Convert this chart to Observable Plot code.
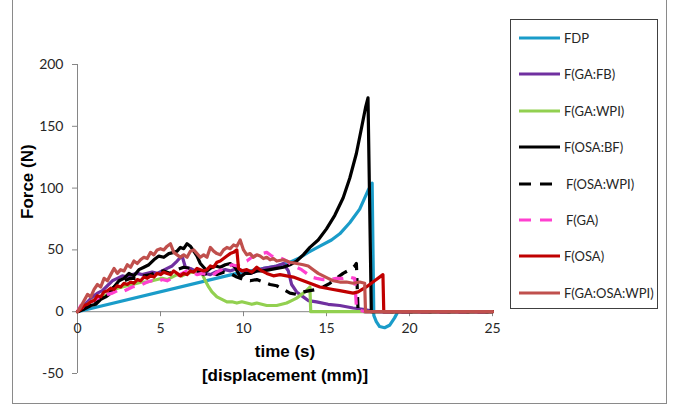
<!DOCTYPE html>
<html>
<head>
<meta charset="utf-8">
<script src="https://cdn.jsdelivr.net/npm/d3@7"></script>
<script src="https://cdn.jsdelivr.net/npm/@observablehq/plot@0.6"></script>
<style>
  html, body { margin: 0; padding: 0; background: #fff; }
  #wrap { position: relative; width: 673px; height: 408px; overflow: hidden; font-family: Lato, "Noto Sans", sans-serif; }
  #frame { position: absolute; left: 12px; top: -1px; width: 655px; height: 405px; border: 1px solid #8a8a8a; box-sizing: border-box; }
  #legend { position: absolute; left: 510px; top: 19px; width: 148px; height: 290px; border: 1px solid #404040; box-sizing: border-box; background: #fff; }
  .item { position: absolute; left: 8px; height: 16px; display: flex; align-items: center; font-size: 13px; color: #262626; white-space: nowrap; }
  .item svg { margin-right: 3px; }
  #chart { position: absolute; left: 0; top: 0; }
</style>
</head>
<body>
<div id="wrap">
  <div id="frame"></div>
  <div id="chart"></div>
  <div id="legend"></div>
</div>
<script>
// ---- data: [time (s), force (N)] ----
const fdp = [[0,0],[9.6,31],[10,32],[11,34.5],[12,37],[12.8,40],[13.3,43],[13.9,48],[14.6,53],[15.3,58],[15.8,63],[16.4,72],[17.0,83],[17.5,98],[17.75,104],[17.85,-3],[18.0,-8],[18.2,-12],[18.5,-13],[18.8,-11],[19.1,-5],[19.3,0],[25,0]];

const gaFb = [[0,0],[0.3,4],[0.6,8],[0.9,12],[1.2,15],[1.5,17],[1.8,21],[2.1,25],[2.4,27],[2.7,29],[3.0,28],[3.3,30],[3.6,31],[3.9,30],[4.2,31],[4.5,32],[4.8,31],[5.1,33],[5.4,35],[5.7,37],[6.0,41],[6.2,44],[6.3,45],[6.5,36],[6.8,35],[7.1,33],[7.4,32],[7.7,31],[8.0,30],[8.3,32],[8.6,33],[8.9,34],[9.2,33],[9.6,35],[10.0,33],[10.4,31],[10.8,33],[11.2,35],[11.6,36],[12.0,37],[12.4,39],[12.7,33],[12.9,22],[13.2,16],[13.6,12],[13.9,9],[14.4,8],[15.1,6],[15.8,5],[16.6,3],[17.2,2],[17.6,1],[17.8,0],[25,0]];

const gaWpi = [[0,0],[0.3,3],[0.6,6],[0.9,9],[1.2,11],[1.5,12],[1.8,14],[2.1,17],[2.4,19],[2.7,20],[3.0,21],[3.3,22],[3.6,23],[3.9,24],[4.2,24],[4.5,25],[4.8,26],[5.1,27],[5.4,26],[5.7,28],[6.0,30],[6.3,29],[6.6,31],[6.9,32],[7.2,33],[7.5,31],[7.7,25],[7.9,20],[8.1,16],[8.4,12],[8.7,10],[9.0,8],[9.3,8],[9.6,7],[9.9,8],[10.2,7],[10.5,6],[10.8,7],[11.1,6],[11.4,5],[11.7,5],[12.0,5],[12.3,6],[12.6,7],[12.9,9],[13.2,11],[13.5,14],[13.8,17],[14.0,20],[14.05,0],[25,0]];

const osaBf = [[0,0],[0.4,2],[0.8,5],[1.1,6],[1.4,10],[1.7,12],[1.9,14],[2.2,20],[2.5,25],[2.8,27],[3.1,31],[3.4,29],[3.7,34],[4.0,36],[4.3,38],[4.6,42],[4.9,45],[5.2,44],[5.5,47],[5.8,48],[6.0,49],[6.2,52],[6.4,51],[6.6,55],[6.8,53],[7.0,49],[7.2,45],[7.4,39],[7.6,36],[7.8,33],[8.0,35],[8.3,37],[8.6,36],[8.9,38],[9.2,39],[9.5,36],[9.8,28],[10.1,31],[10.4,31],[10.8,33],[11.2,33],[11.6,34],[12.0,35],[12.4,36],[12.8,38],[13.2,41],[13.6,46],[14.0,52],[14.5,58],[15.0,67],[15.5,78],[16.0,92],[16.4,108],[16.8,128],[17.1,148],[17.35,165],[17.5,173],[17.7,0],[25,0]];

const osaWpi = [[0,0],[0.4,3],[0.8,6],[1.2,9],[1.6,14],[2.0,18],[2.4,22],[2.8,25],[3.2,27],[3.6,27],[4.0,29],[4.4,30],[4.8,32],[5.2,33],[5.6,31],[6.0,34],[6.4,36],[6.8,35],[7.2,33],[7.6,30],[8.0,32],[8.4,30],[8.8,32],[9.2,31],[9.6,28],[10.0,26],[10.4,25],[10.8,26],[11.2,24],[11.6,22],[12.0,21],[12.4,18],[12.8,15],[13.2,14],[13.6,16],[14.0,17],[14.4,18],[14.8,20],[15.2,23],[15.6,27],[16.0,31],[16.4,34],[16.7,37],[16.8,39],[16.9,1],[17.3,0],[25,0]];

const ga = [[0,0],[0.2,5],[0.4,3],[0.6,6],[0.8,8],[1.0,9],[1.2,11],[1.5,12],[1.8,14],[2.1,15],[2.4,17],[2.7,16],[3.0,18],[3.3,20],[3.6,21],[3.9,22],[4.2,24],[4.5,25],[4.8,24],[5.1,26],[5.4,25],[5.7,27],[6.0,29],[6.3,31],[6.6,33],[6.9,32],[7.2,30],[7.5,31],[7.8,30],[8.1,29],[8.4,32],[8.7,34],[9.0,36],[9.3,38],[9.6,37],[9.9,40],[10.2,41],[10.5,44],[10.8,46],[11.1,47],[11.4,48],[11.7,45],[12.0,44],[12.3,43],[12.6,41],[12.9,38],[13.2,36],[13.5,34],[13.8,31],[14.1,28],[14.4,27],[14.8,26],[15.2,26],[15.6,27],[16.0,27],[16.4,28],[16.7,27],[16.8,4],[17.0,1],[17.4,0],[25,0]];

const osa = [[0,0],[0.2,2],[0.4,5],[0.6,6],[0.8,8],[1.0,9],[1.2,13],[1.4,12],[1.6,16],[1.8,17],[2.0,19],[2.2,18],[2.4,21],[2.6,20],[2.8,23],[3.0,22],[3.2,24],[3.4,23],[3.6,26],[3.8,25],[4.0,28],[4.2,27],[4.4,29],[4.6,28],[4.8,31],[5.0,30],[5.2,32],[5.4,31],[5.6,30],[5.8,33],[6.0,31],[6.2,29],[6.4,31],[6.6,30],[6.8,33],[7.0,32],[7.2,35],[7.4,34],[7.6,33],[7.8,34],[8.0,37],[8.2,36],[8.4,40],[8.6,41],[8.8,43],[9.0,45],[9.2,47],[9.4,48],[9.6,50],[9.7,35],[9.9,33],[10.2,34],[10.5,32],[10.8,36],[11.1,33],[11.4,31],[11.8,29],[12.2,30],[12.6,29],[13.0,28],[13.4,26],[13.8,24],[14.2,22],[14.6,20],[15.0,19],[15.4,18],[15.8,17],[16.2,16],[16.6,15],[16.9,16],[17.4,20],[17.9,25],[18.4,30],[18.45,0],[25,0]];

const gaOsaWpi = [[0,0],[0.2,4],[0.4,9],[0.6,14],[0.8,12],[1.0,18],[1.2,22],[1.4,20],[1.6,27],[1.8,25],[2.0,30],[2.2,35],[2.4,31],[2.6,34],[2.8,33],[3.0,38],[3.2,36],[3.4,41],[3.6,39],[3.8,42],[4.0,44],[4.2,43],[4.4,48],[4.6,46],[4.8,50],[5.0,51],[5.2,50],[5.4,53],[5.6,55],[5.8,48],[6.0,46],[6.2,44],[6.4,46],[6.6,44],[6.8,49],[7.0,50],[7.2,47],[7.4,44],[7.6,46],[7.8,44],[8.0,52],[8.2,49],[8.4,47],[8.6,46],[8.8,50],[9.0,52],[9.2,51],[9.4,54],[9.6,53],[9.8,58],[10.0,50],[10.2,46],[10.4,47],[10.6,44],[10.8,46],[11.0,45],[11.2,43],[11.4,44],[11.6,42],[11.8,43],[12.0,41],[12.4,42],[12.8,40],[13.2,39],[13.6,38],[13.9,37],[14.2,34],[14.5,31],[14.8,29],[15.1,27],[15.4,25],[15.8,24],[16.2,24],[16.6,23],[17.0,24],[17.3,23],[17.35,0],[25,0]];

const seriesNames = ["FDP","F(GA:FB)","F(GA:WPI)","F(OSA:BF)","F(OSA:WPI)","F(GA)","F(OSA)","F(GA:OSA:WPI)"];
const seriesData = [fdp, gaFb, gaWpi, osaBf, osaWpi, ga, osa, gaOsaWpi];
const seriesColors = ["#1a9cc9","#7030a0","#92d050","#000000","#000000","#ff40d0","#c00000","#c0504d"];
const seriesDashed = [false,false,false,false,true,true,false,false];

const xTicks = [0,5,10,15,20,25];
const yTicks = [-50,0,50,100,150,200];

const axisGray = "#868686";
const textColor = "#262626";

const lineMarks = seriesData.map((data, i) => Plot.line(data, {
  x: d => d[0], y: d => d[1],
  stroke: seriesColors[i], strokeWidth: 3.2,
  strokeDasharray: seriesDashed[i] ? "11,8" : null,
  strokeLinecap: seriesDashed[i] ? "butt" : "round",
  strokeLinejoin: "round"
}));

const chart = Plot.plot({
  width: 673, height: 408,
  marginLeft: 77, marginRight: 181, marginTop: 64, marginBottom: 35,
  x: {domain: [0, 25], axis: null},
  y: {domain: [-50, 200], axis: null},
  style: {fontFamily: "Lato, 'Noto Sans', sans-serif", fontSize: "14px", color: textColor, background: "transparent", overflow: "visible"},
  marks: [
    Plot.ruleX([0], {y1: -50, y2: 200, stroke: axisGray, strokeWidth: 1}),
    Plot.axisY(yTicks, {anchor: "left", tickSize: 5, tickPadding: 9, stroke: axisGray, fill: textColor, fontSize: 14, tickFormat: d => String(d), label: null}),
    Plot.ruleY([0], {x1: 0, x2: 25, stroke: axisGray, strokeWidth: 1}),
    Plot.ruleX(xTicks, {x: d => d, y1: 0, y2: 0, insetBottom: -5, stroke: axisGray}),
    Plot.text(xTicks, {x: d => d, y: 0, dy: 17, text: d => String(d), fill: textColor, fontSize: 14}),
    ...lineMarks,
    Plot.text(["Force (N)"], {frameAnchor: "left", dx: -50, rotate: -90, text: d => d, fontSize: 17, fontWeight: "bold", fontFamily: "'Liberation Sans', Arial, sans-serif", fill: "#000"}),
    Plot.text(["time (s)"], {frameAnchor: "bottom", dy: -17, text: d => d, fontSize: 17, fontWeight: "bold", fontFamily: "'Liberation Sans', Arial, sans-serif", fill: "#000"}),
    Plot.text(["[displacement (mm)]"], {frameAnchor: "bottom", dy: 7, text: d => d, fontSize: 17, fontWeight: "bold", fontFamily: "'Liberation Sans', Arial, sans-serif", fill: "#000"})
  ]
});
document.getElementById("chart").appendChild(chart);

// legend
const legend = document.getElementById("legend");
seriesNames.forEach((name, i) => {
  const item = document.createElement("div");
  item.className = "item";
  item.style.top = (10 + i * 36.4) + "px";
  const dash = seriesDashed[i] ? ' stroke-dasharray="12,9"' : '';
  item.innerHTML = `<svg width="42" height="6"><line x1="0" y1="3" x2="41" y2="3" stroke="${seriesColors[i]}" stroke-width="3"${dash}/></svg><span style="margin-left:${seriesDashed[i] ? 2 : 0}px">${name}</span>`;
  legend.appendChild(item);
});
</script>
</body>
</html>
